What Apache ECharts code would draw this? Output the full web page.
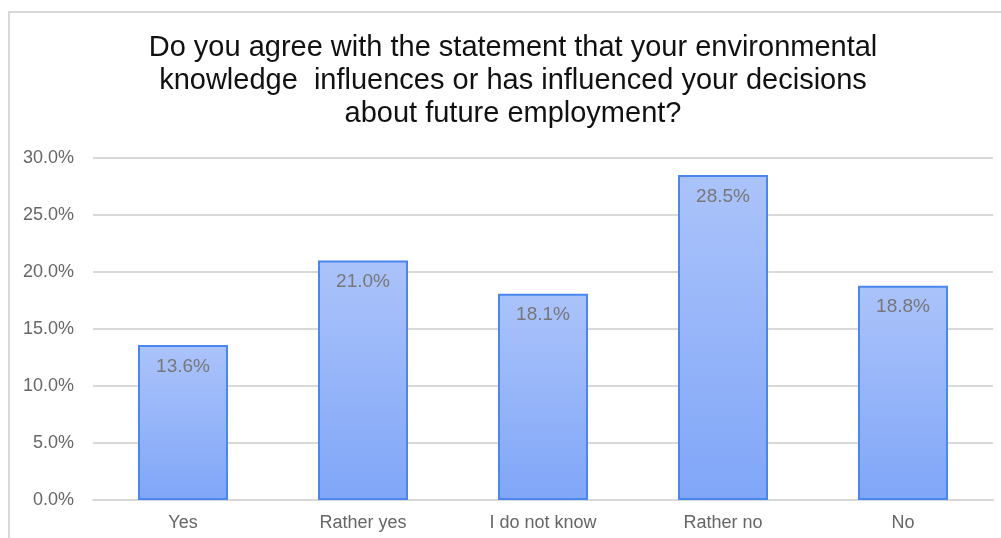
<!DOCTYPE html>
<html>
<head>
<meta charset="utf-8">
<script src="https://cdn.jsdelivr.net/npm/echarts@6/dist/echarts.min.js"></script>
<style>
  html, body { margin: 0; padding: 0; background: #fff; }
  #chart { width: 1001px; height: 538px; }
</style>
</head>
<body>
<div id="chart"></div>
<script>
// Survey answers and their shares (%)
const categories = ['Yes', 'Rather yes', 'I do not know', 'Rather no', 'No'];
const shares = [13.6, 21.0, 18.1, 28.5, 18.8];
const titleText = 'Do you agree with the statement that your environmental\nknowledge  influences or has influenced your decisions\nabout future employment?';

const chart = echarts.init(document.getElementById('chart'));
const font = '"Liberation Sans", Arial, sans-serif';

chart.setOption({
  animation: false,
  graphic: [{
    type: 'polyline',
    shape: { points: [[9, 540], [9, 12], [1003, 12]] },
    style: { stroke: '#d9d9d9', lineWidth: 2, fill: null },
    silent: true
  }],
  title: {
    text: titleText,
    left: 513,
    top: 31,
    padding: 0,
    textAlign: 'center',
    textStyle: {
      fontFamily: font,
      fontSize: 29,
      fontWeight: 'normal',
      color: '#111111',
      lineHeight: 33
    }
  },
  grid: { left: 93, right: 8, top: 158, bottom: 38, containLabel: false },
  xAxis: {
    type: 'category',
    data: categories,
    axisLine: { show: true, lineStyle: { color: '#d9d9d9', width: 2 } },
    axisTick: { show: false },
    axisLabel: { color: '#666666', fontFamily: font, fontSize: 18, margin: 14 }
  },
  yAxis: {
    type: 'value',
    min: 0,
    max: 30,
    interval: 5,
    axisLine: { show: false },
    axisTick: { show: false },
    splitLine: { lineStyle: { color: '#d9d9d9', width: 2 } },
    axisLabel: {
      color: '#666666',
      fontFamily: font,
      fontSize: 18,
      margin: 19,
      formatter: v => v.toFixed(1) + '%'
    }
  },
  series: [{
    type: 'bar',
    data: shares,
    barWidth: '50%',
    itemStyle: {
      color: new echarts.graphic.LinearGradient(0, 0, 0, 1, [
        { offset: 0, color: '#abc3fa' },
        { offset: 1, color: '#80a6f8' }
      ]),
      borderColor: '#4a86f0',
      borderWidth: 2
    },
    label: {
      show: true,
      position: 'insideTop',
      distance: 12,
      color: '#777777',
      fontFamily: font,
      fontSize: 19,
      formatter: p => p.value.toFixed(1) + '%'
    }
  }]
});
</script>
</body>
</html>
